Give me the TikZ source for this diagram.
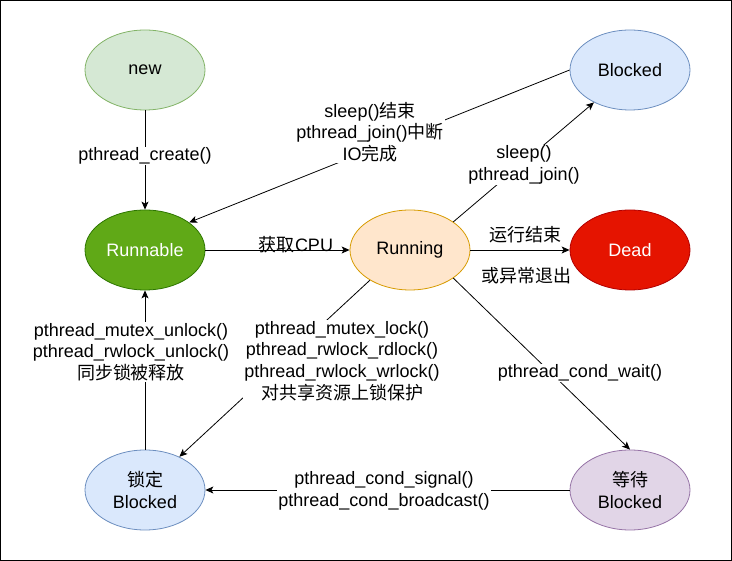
\documentclass[tikz,border=0pt]{standalone}
\usepackage{fontspec}
\setmainfont{Liberation Sans}
\newfontfamily\cjk{Noto Sans CJK SC}
\usetikzlibrary{shapes.geometric,arrows.meta}
\definecolor{newfill}{HTML}{D5E8D4}
\definecolor{newdraw}{HTML}{82B366}
\definecolor{blkfill}{HTML}{DAE8FC}
\definecolor{blkdraw}{HTML}{6C8EBF}
\definecolor{runfill}{HTML}{60A917}
\definecolor{rundraw}{HTML}{2D7600}
\definecolor{ingfill}{HTML}{FFE6CC}
\definecolor{ingdraw}{HTML}{D79B00}
\definecolor{deadfill}{HTML}{E51400}
\definecolor{deaddraw}{HTML}{B20000}
\definecolor{waitfill}{HTML}{E1D5E7}
\definecolor{waitdraw}{HTML}{9673A6}
\begin{document}
\begin{tikzpicture}[x=1pt,y=-1pt,
  state/.style={ellipse, draw, line width=0.8pt, minimum width=120pt, minimum height=80pt,
    inner sep=0pt, align=center, font=\fontsize{18}{21.6}\selectfont},
  arr/.style={-{Stealth[length=8pt,width=7pt,inset=2pt]}, line width=0.8pt},
  lab/.style={fill=white, inner sep=1pt, align=center, font=\fontsize{18}{21.6}\selectfont},
  plainlab/.style={inner sep=0pt, align=center, font=\fontsize{18}{21.6}\selectfont}]
\useasboundingbox (0,0) rectangle (732,561);
\draw[line width=1pt] (0.5,0.5) rectangle (731.5,560.5);

\node[state, fill=newfill, draw=newdraw] (new) at (145,70) {new};
\node[state, fill=blkfill, draw=blkdraw] (blocked) at (630,70) {Blocked};
\node[state, fill=runfill, draw=rundraw, text=white] (runnable) at (145,250) {Runnable};
\node[state, fill=ingfill, draw=ingdraw] (running) at (410,250) {Running};
\node[state, fill=deadfill, draw=deaddraw, text=white] (dead) at (630,250) {Dead};
\node[state, fill=blkfill, draw=blkdraw] (lock) at (145,490) {{\cjk 锁定}\\Blocked};
\node[state, fill=waitfill, draw=waitdraw] (wait) at (630,490) {{\cjk 等待}\\Blocked};

\draw[arr] (new) -- (runnable);
\draw[arr] (blocked.west) -- (runnable.32);
\draw[arr] (running.33) -- (blocked.222);
\draw[arr] (runnable) -- (running);
\draw[arr] (running) -- (dead);
\draw[arr] (running.217) -- (lock.44);
\draw[arr] (running.-33) -- (wait.north);
\draw[arr] (wait) -- (lock);
\draw[arr] (lock) -- (runnable);

\node[lab] (l1) at (145,156) {pthread\_create()};
\node[lab] (l2) at (370,132) {sleep(){\cjk 结束}\\pthread\_join(){\cjk 中断}\\IO{\cjk 完成}};
\node[lab] (l3) at (524,165) {sleep()\\pthread\_join()};
\node[plainlab] (l4) at (296,245) {{\cjk 获取}CPU};
\node[plainlab] (l5) at (525,235) {\cjk 运行结束};
\node[plainlab] (l6) at (526,276) {\cjk 或异常退出};
\node[lab] (l7) at (342,361) {pthread\_mutex\_lock()\\pthread\_rwlock\_rdlock()\\pthread\_rwlock\_wrlock()\\{\cjk 对共享资源上锁保护}};
\node[lab] (l8) at (580,373) {pthread\_cond\_wait()};
\node[lab] (l9) at (384,491) {pthread\_cond\_signal()\\pthread\_cond\_broadcast()};
\node[lab] (l10) at (131,352) {pthread\_mutex\_unlock()\\pthread\_rwlock\_unlock()\\{\cjk 同步锁被释放}};
\end{tikzpicture}
\end{document}
